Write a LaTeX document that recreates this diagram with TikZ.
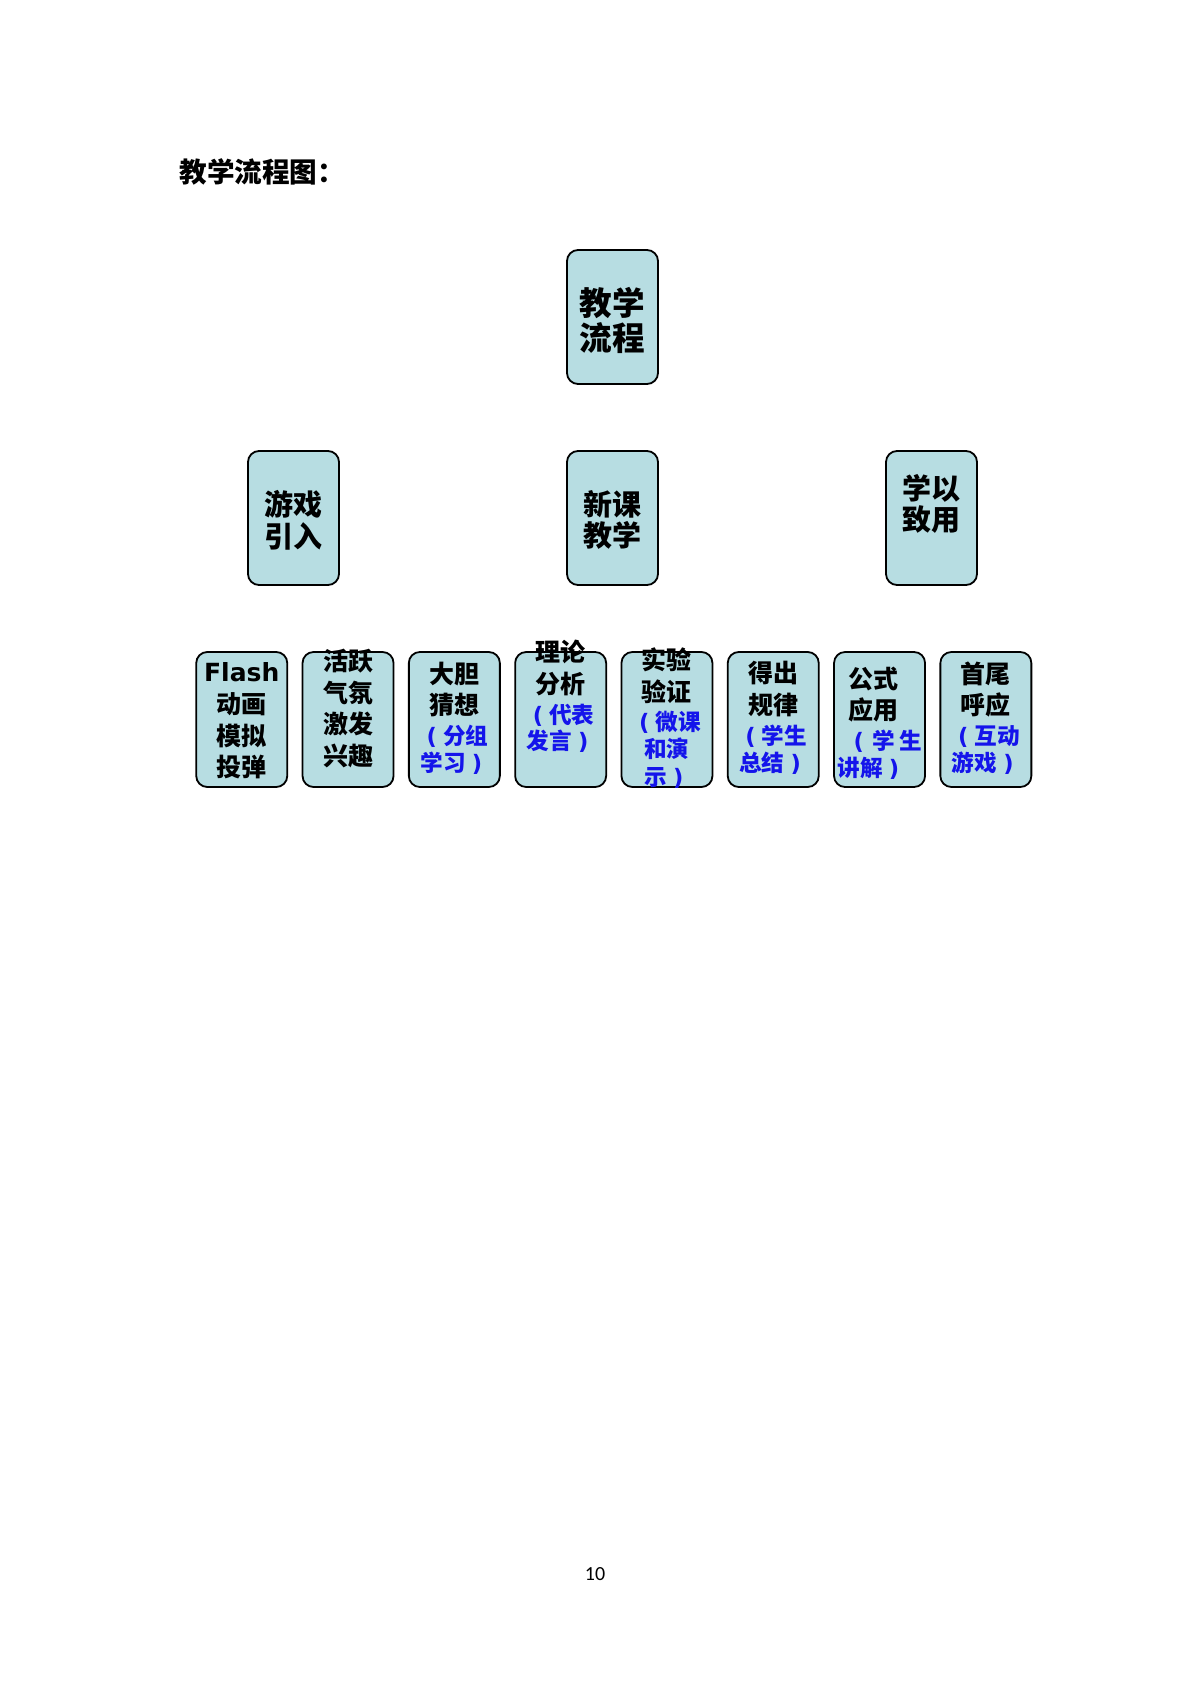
\documentclass[tikz,border=0pt]{standalone}
\usepackage{fontspec}
\newfontfamily\cjk{Noto Sans CJK SC}
\newfontfamily\dv{DejaVu Sans}
\newfontfamily\carl{Carlito}
\definecolor{boxfill}{RGB}{183,221,226}
\definecolor{txtblue}{RGB}{20,20,235}
\newcommand\bluefont{\color{txtblue}\fontsize{11.3}{15.8}\selectfont}
\newcommand\lpar{\makebox[1em][c]{\dv\bfseries(}}
\newcommand\rpar{\makebox[1em][c]{\dv\bfseries)}}
\begin{document}
\begin{tikzpicture}[x=0.5pt,y=-0.5pt,
  box/.style={draw=black, line width=0.9pt, fill=boxfill, rounded corners=5.5pt,
    minimum width=45.5pt, inner sep=0pt},
  topbox/.style={box, minimum height=67pt},
  lowbox/.style={box, minimum height=67.5pt},
  bigtxt/.style={inner sep=0pt, align=center, font=\cjk\bfseries\fontsize{16.3}{17.5}\selectfont},
  midtxt/.style={inner sep=0pt, align=center, font=\cjk\bfseries\fontsize{14.5}{15.8}\selectfont},
  smalltxt/.style={inner sep=0pt, align=center, font=\cjk\bfseries\fontsize{12.5}{15.8}\selectfont}]
\useasboundingbox (0,0) rectangle (1191,1684);

% title
\node[anchor=west, inner sep=0pt, font=\cjk\bfseries\fontsize{13.8}{14}\selectfont] (title) at (179,172) {教学流程图：};

% top
\node[topbox] (top) at (612.5,317) {};
\node[bigtxt] (toptxt) at (612.5,320) {教学\\流程};

% middle row
\node[topbox] (m1) at (293.5,518) {};
\node[midtxt] (m1t) at (293.5,520) {游戏\\引入};
\node[topbox] (m2) at (612.5,518) {};
\node[midtxt] (m2t) at (612.5,520) {新课\\教学};
\node[topbox] (m3) at (931.5,518) {};
\node[midtxt] (m3t) at (931.5,504) {学以\\致用};

% bottom row
\node[lowbox] (b1) at (241.75,719.5) {};
\node[smalltxt] (b1t) at (241.75,721) {{\dv\bfseries Flash}\\动画\\模拟\\投弹};
\node[lowbox] (b2) at (348.05,719.5) {};
\node[smalltxt] (b2t) at (348.05,708.5) {活跃\\气氛\\激发\\兴趣};
\node[lowbox] (b3) at (454.35,719.5) {};
\node[smalltxt] (b3t) at (454.35,718) {大胆\\猜想\\[-0.8pt]\bluefont\lpar 分组\\[-2.4pt]\bluefont 学习\rpar};
\node[lowbox] (b4) at (560.65,719.5) {};
\node[smalltxt] (b4t) at (560.65,696.5) {理论\\分析\\[-0.8pt]\bluefont\lpar 代表\\[-2.4pt]\bluefont 发言\rpar};
\node[lowbox] (b5) at (666.95,719.5) {};
\node[smalltxt] (b5t) at (666.95,718) {实验\\验证\\[-1.2pt]\bluefont\lpar 微课\\[-2.2pt]\bluefont 和演\\[-2.2pt]\bluefont 示\rpar};
\node[lowbox] (b6) at (773.25,719.5) {};
\node[smalltxt] (b6t) at (773.25,718) {得出\\规律\\[-0.8pt]\bluefont\lpar 学生\\[-2.4pt]\bluefont 总结\rpar};
\node[lowbox] (b7) at (879.55,719.5) {};
\node[smalltxt, align=left, anchor=west] (b7t) at (837,723) {\hspace*{5.75pt}公式\\\hspace*{5.75pt}应用\\[-1.2pt]\bluefont\hspace*{5pt}\lpar\hspace{1.2pt}学\hspace{2.2pt}生\\[-2.2pt]\bluefont 讲解\rpar};
\node[lowbox] (b8) at (985.85,719.5) {};
\node[smalltxt] (b8t) at (985.85,718) {首尾\\呼应\\[-0.8pt]\bluefont\lpar 互动\\[-2.4pt]\bluefont 游戏\rpar};

% page number
\node[inner sep=0pt, font=\carl\fontsize{10}{12}\selectfont] (pg) at (595,1574) {10};
\end{tikzpicture}
\end{document}
